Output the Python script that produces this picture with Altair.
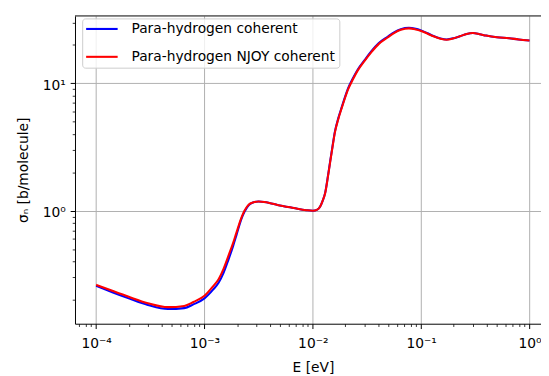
import altair as alt
import pandas as pd

# ---------------- data ----------------
energy_eV = [1.0e-4, 1.41e-4, 2.0e-4, 3.0e-4, 4.6e-4, 6.5e-4, 7.9e-4, 1.0e-3,
             1.2e-3, 1.35e-3, 1.5e-3, 1.66e-3, 1.84e-3, 1.97e-3, 2.19e-3, 2.34e-3,
             2.57e-3, 2.8e-3, 3.16e-3, 3.55e-3, 3.98e-3, 4.72e-3, 6.68e-3, 8.7e-3,
             1.0e-2, 1.1e-2, 1.17e-2, 1.23e-2, 1.3e-2, 1.37e-2, 1.445e-2, 1.52e-2,
             1.6e-2, 1.72e-2, 1.85e-2, 2.0e-2, 2.12e-2, 2.34e-2, 2.61e-2, 3.02e-2,
             3.46e-2, 4.07e-2, 4.9e-2, 5.62e-2, 6.49e-2, 7.71e-2, 8.91e-2, 9.86e-2,
             0.115, 0.13, 0.151, 0.172, 0.2, 0.228, 0.263, 0.301,
             0.347, 0.398, 0.501, 0.649, 0.794, 1.0]

sigma_coherent = [0.257, 0.229, 0.205, 0.182, 0.169, 0.172, 0.184, 0.205,
                  0.24, 0.272, 0.325, 0.41, 0.53, 0.64, 0.86, 0.98,
                  1.11, 1.16, 1.18, 1.17, 1.15, 1.11, 1.05, 1.01,
                  1.0, 1.02, 1.08, 1.19, 1.38, 1.80, 2.43, 3.2,
                  4.18, 5.33, 6.5, 7.97, 9.15, 10.9, 12.9, 15.3,
                  17.8, 20.7, 23.2, 25.1, 26.6, 27.3, 26.8, 26.1,
                  24.7, 23.5, 22.5, 22.1, 22.6, 23.4, 24.4, 24.8,
                  24.3, 23.7, 23.0, 22.6, 22.1, 21.7]

sigma_njoy = [0.262, 0.235, 0.211, 0.188, 0.175, 0.179, 0.192, 0.215,
              0.255, 0.29, 0.35, 0.44, 0.56, 0.67, 0.88, 1.0,
              1.12, 1.16, 1.18, 1.17, 1.15, 1.11, 1.05, 1.01,
              1.0, 1.02, 1.08, 1.19, 1.37, 1.78, 2.40, 3.16,
              4.12, 5.25, 6.41, 7.85, 9.0, 10.7, 12.7, 15.1,
              17.5, 20.4, 22.9, 24.8, 26.3, 27.0, 26.5, 25.9,
              24.5, 23.4, 22.4, 22.0, 22.6, 23.4, 24.4, 24.8,
              24.3, 23.7, 23.0, 22.6, 22.1, 21.7]

series_names = ["Para-hydrogen coherent", "Para-hydrogen NJOY coherent"]
series_colors = ["#0000ff", "#ff0000"]

x_major = [1e-4, 1e-3, 1e-2, 1e-1, 1.0]
x_major_labels = ["10⁻⁴", "10⁻³", "10⁻²", "10⁻¹", "10⁰"]
y_major = [1.0, 10.0]
y_major_labels = ["10⁰", "10¹"]
x_minor = [7e-5, 8e-5, 9e-5,
           2e-4, 3e-4, 4e-4, 5e-4, 6e-4, 7e-4, 8e-4, 9e-4,
           2e-3, 3e-3, 4e-3, 5e-3, 6e-3, 7e-3, 8e-3, 9e-3,
           2e-2, 3e-2, 4e-2, 5e-2, 6e-2, 7e-2, 8e-2, 9e-2,
           0.2, 0.3, 0.4, 0.5, 0.6, 0.7, 0.8, 0.9]
y_minor = [0.2, 0.3, 0.4, 0.5, 0.6, 0.7, 0.8, 0.9,
           2, 3, 4, 5, 6, 7, 8, 9, 20, 30]
x_domain = [6.38e-5, 1.278]
y_domain = [0.1297, 33.8]

x_title = "E [eV]"
y_title = "σₙ [b/molecule]"

# ---------------- layout ----------------
FONT = "DejaVu Sans"
W, H = 473, 312.4
PAD = {"left": 68, "top": 5.3, "right": 0, "bottom": 50.3}

rows = []
for name, vals in ((series_names[0], sigma_coherent), (series_names[1], sigma_njoy)):
    for e, s in zip(energy_eV, vals):
        rows.append({"E": e, "sigma": s, "series": name})
df = pd.DataFrame(rows)


def label_expr(values, labels):
    expr = "''"
    for v, lab in reversed(list(zip(values, labels))):
        expr = f"datum.value == {v!r} ? '{lab}' : ({expr})"
    return expr


x_scale = alt.Scale(type="log", domain=x_domain, nice=False)
y_scale = alt.Scale(type="log", domain=y_domain, nice=False)

common_axis = dict(tickColor="black", tickWidth=1, domainColor="black", domainWidth=1,
                   labelFont=FONT, labelFontSize=14, labelColor="black",
                   titleFont=FONT, titleFontSize=14, titleFontWeight="normal",
                   titleColor="black", labelOverlap=False, labelFlush=False)

x_axis_major = alt.Axis(orient="bottom", values=x_major,
                        labelExpr=label_expr(x_major, x_major_labels),
                        tickSize=4.9, labelPadding=8, labelBaseline="top",
                        grid=True, gridColor="#b0b0b0", gridWidth=1,
                        title=x_title, titleX=241.5, titleY=48,
                        titleBaseline="alphabetic", titleAlign="center",
                        **common_axis)
y_axis_major = alt.Axis(orient="left", values=y_major,
                        labelExpr=label_expr(y_major, y_major_labels),
                        tickSize=4.9, labelPadding=5, labelBaseline="middle",
                        labelOffset=2, grid=True, gridColor="#b0b0b0", gridWidth=1,
                        title=y_title, titleX=-48, titleY=H / 2, titleAngle=270,
                        titleBaseline="alphabetic", titleAlign="center",
                        **common_axis)

x_axis_minor = alt.Axis(orient="bottom", values=x_minor, labels=False, tickSize=2.8,
                        tickColor="black", tickWidth=0.8, grid=False, domain=False, title=None)
y_axis_minor = alt.Axis(orient="left", values=y_minor, labels=False, tickSize=2.8,
                        tickColor="black", tickWidth=0.8, grid=False, domain=False, title=None)

# a long horizontal dash as the legend handle (about 32 px wide at size 121)
legend_handle = "M-2.909,0H2.909"

lines = alt.Chart(df).mark_line(strokeWidth=2.1, interpolate="monotone").encode(
    x=alt.X("E:Q", scale=x_scale, axis=x_axis_major),
    y=alt.Y("sigma:Q", scale=y_scale, axis=y_axis_major),
    color=alt.Color("series:N",
                    scale=alt.Scale(domain=series_names, range=series_colors),
                    sort=series_names,
                    legend=alt.Legend(orient="none", legendX=7.3, legendY=2.5, title=None,
                                      symbolType=legend_handle, symbolSize=121,
                                      symbolStrokeWidth=2.1, symbolOffset=9.3,
                                      labelFont=FONT, labelFontSize=14,
                                      labelColor="black", labelLimit=500,
                                      labelOffset=23, padding=3.7,
                                      fillColor="rgba(255,255,255,0.8)",
                                      strokeColor="#cccccc", cornerRadius=3,
                                      rowPadding=14.3)),
)

minor = alt.Chart(df).mark_point(opacity=0).encode(
    x=alt.X("E:Q", scale=x_scale, axis=x_axis_minor),
    y=alt.Y("sigma:Q", scale=y_scale, axis=y_axis_minor),
)

top_frame = alt.Chart(alt.Data(values=[{}])).mark_rule(color="black", strokeWidth=1).encode(
    x=alt.value(0), x2=alt.value(W), y=alt.value(0)
)

chart = alt.layer(minor, lines, top_frame).resolve_axis(
    x="independent", y="independent"
).properties(
    width=W, height=H, padding=PAD,
    autosize=alt.AutoSizeParams(type="none"),
).configure_view(stroke=None)

chart.save("out.html", embed_options={"renderer": "svg", "actions": False})
